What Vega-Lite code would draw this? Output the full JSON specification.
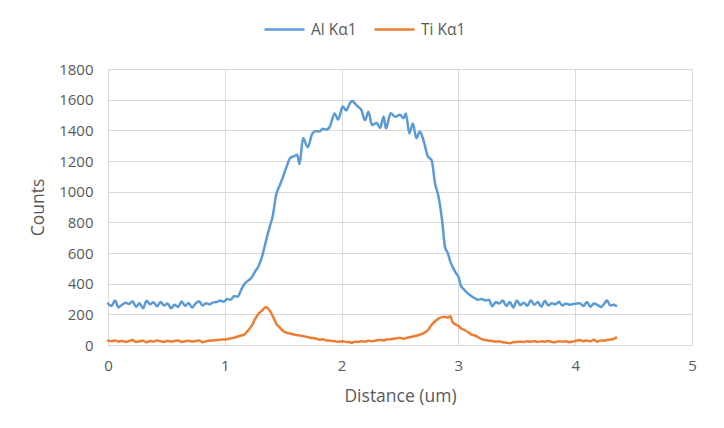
{
  "$schema": "https://vega.github.io/schema/vega-lite/v6.json",
  "autosize": {"type": "none"},
  "width": 584,
  "height": 276,
  "padding": {"left": 108, "top": 69, "right": 32, "bottom": 83},
  "background": "white",
  "config": {
    "font": "Open Sans",
    "view": {"stroke": "#d9d9d9", "strokeWidth": 1},
    "axis": {
      "gridColor": "#d9d9d9",
      "gridWidth": 1,
      "domainColor": "#d9d9d9",
      "ticks": false,
      "labelColor": "#595959",
      "labelFontSize": 15,
      "titleColor": "#595959",
      "titleFontSize": 17.5,
      "titleFontWeight": "normal"
    }
  },
  "data": {
    "values": [
      {"d": 0.00, "Al Kα1": 270, "Ti Kα1": 28},
      {"d": 0.03, "Al Kα1": 255, "Ti Kα1": 25},
      {"d": 0.06, "Al Kα1": 290, "Ti Kα1": 30},
      {"d": 0.09, "Al Kα1": 245, "Ti Kα1": 22},
      {"d": 0.12, "Al Kα1": 262, "Ti Kα1": 27},
      {"d": 0.15, "Al Kα1": 275, "Ti Kα1": 20},
      {"d": 0.18, "Al Kα1": 268, "Ti Kα1": 25},
      {"d": 0.21, "Al Kα1": 285, "Ti Kα1": 32},
      {"d": 0.24, "Al Kα1": 250, "Ti Kα1": 20},
      {"d": 0.27, "Al Kα1": 272, "Ti Kα1": 24},
      {"d": 0.30, "Al Kα1": 240, "Ti Kα1": 28},
      {"d": 0.33, "Al Kα1": 288, "Ti Kα1": 18},
      {"d": 0.36, "Al Kα1": 266, "Ti Kα1": 26},
      {"d": 0.39, "Al Kα1": 278, "Ti Kα1": 22},
      {"d": 0.42, "Al Kα1": 252, "Ti Kα1": 30},
      {"d": 0.45, "Al Kα1": 280, "Ti Kα1": 24},
      {"d": 0.48, "Al Kα1": 258, "Ti Kα1": 20},
      {"d": 0.51, "Al Kα1": 270, "Ti Kα1": 28},
      {"d": 0.54, "Al Kα1": 240, "Ti Kα1": 22},
      {"d": 0.57, "Al Kα1": 262, "Ti Kα1": 26},
      {"d": 0.60, "Al Kα1": 248, "Ti Kα1": 30},
      {"d": 0.63, "Al Kα1": 284, "Ti Kα1": 20},
      {"d": 0.66, "Al Kα1": 255, "Ti Kα1": 24},
      {"d": 0.69, "Al Kα1": 274, "Ti Kα1": 28},
      {"d": 0.72, "Al Kα1": 244, "Ti Kα1": 22},
      {"d": 0.75, "Al Kα1": 270, "Ti Kα1": 26},
      {"d": 0.78, "Al Kα1": 286, "Ti Kα1": 30},
      {"d": 0.81, "Al Kα1": 258, "Ti Kα1": 18},
      {"d": 0.84, "Al Kα1": 272, "Ti Kα1": 25},
      {"d": 0.87, "Al Kα1": 265, "Ti Kα1": 28},
      {"d": 0.90, "Al Kα1": 278, "Ti Kα1": 30},
      {"d": 0.93, "Al Kα1": 280, "Ti Kα1": 33},
      {"d": 0.96, "Al Kα1": 290, "Ti Kα1": 35},
      {"d": 0.99, "Al Kα1": 282, "Ti Kα1": 36},
      {"d": 1.02, "Al Kα1": 300, "Ti Kα1": 38},
      {"d": 1.05, "Al Kα1": 295, "Ti Kα1": 42},
      {"d": 1.08, "Al Kα1": 320, "Ti Kα1": 48},
      {"d": 1.11, "Al Kα1": 315, "Ti Kα1": 55},
      {"d": 1.14, "Al Kα1": 360, "Ti Kα1": 62},
      {"d": 1.17, "Al Kα1": 400, "Ti Kα1": 70},
      {"d": 1.20, "Al Kα1": 420, "Ti Kα1": 95},
      {"d": 1.23, "Al Kα1": 440, "Ti Kα1": 125},
      {"d": 1.26, "Al Kα1": 480, "Ti Kα1": 170},
      {"d": 1.29, "Al Kα1": 515, "Ti Kα1": 205},
      {"d": 1.32, "Al Kα1": 580, "Ti Kα1": 225},
      {"d": 1.35, "Al Kα1": 670, "Ti Kα1": 248},
      {"d": 1.38, "Al Kα1": 760, "Ti Kα1": 230},
      {"d": 1.41, "Al Kα1": 840, "Ti Kα1": 190},
      {"d": 1.44, "Al Kα1": 980, "Ti Kα1": 140},
      {"d": 1.47, "Al Kα1": 1040, "Ti Kα1": 115},
      {"d": 1.50, "Al Kα1": 1100, "Ti Kα1": 92},
      {"d": 1.53, "Al Kα1": 1165, "Ti Kα1": 80},
      {"d": 1.56, "Al Kα1": 1220, "Ti Kα1": 75},
      {"d": 1.59, "Al Kα1": 1230, "Ti Kα1": 68},
      {"d": 1.62, "Al Kα1": 1240, "Ti Kα1": 64},
      {"d": 1.64, "Al Kα1": 1180, "Ti Kα1": 62},
      {"d": 1.67, "Al Kα1": 1350, "Ti Kα1": 58},
      {"d": 1.71, "Al Kα1": 1290, "Ti Kα1": 52},
      {"d": 1.75, "Al Kα1": 1380, "Ti Kα1": 45},
      {"d": 1.78, "Al Kα1": 1395, "Ti Kα1": 42},
      {"d": 1.81, "Al Kα1": 1392, "Ti Kα1": 35},
      {"d": 1.84, "Al Kα1": 1410, "Ti Kα1": 38},
      {"d": 1.87, "Al Kα1": 1405, "Ti Kα1": 30},
      {"d": 1.90, "Al Kα1": 1425, "Ti Kα1": 28},
      {"d": 1.94, "Al Kα1": 1510, "Ti Kα1": 25},
      {"d": 1.97, "Al Kα1": 1470, "Ti Kα1": 22},
      {"d": 2.01, "Al Kα1": 1555, "Ti Kα1": 25},
      {"d": 2.04, "Al Kα1": 1530, "Ti Kα1": 20},
      {"d": 2.07, "Al Kα1": 1575, "Ti Kα1": 18},
      {"d": 2.09, "Al Kα1": 1593, "Ti Kα1": 15},
      {"d": 2.12, "Al Kα1": 1570, "Ti Kα1": 22},
      {"d": 2.14, "Al Kα1": 1555, "Ti Kα1": 20},
      {"d": 2.17, "Al Kα1": 1532, "Ti Kα1": 25},
      {"d": 2.20, "Al Kα1": 1465, "Ti Kα1": 22},
      {"d": 2.23, "Al Kα1": 1522, "Ti Kα1": 28},
      {"d": 2.26, "Al Kα1": 1435, "Ti Kα1": 25},
      {"d": 2.30, "Al Kα1": 1448, "Ti Kα1": 30},
      {"d": 2.33, "Al Kα1": 1415, "Ti Kα1": 32},
      {"d": 2.36, "Al Kα1": 1490, "Ti Kα1": 30},
      {"d": 2.38, "Al Kα1": 1412, "Ti Kα1": 35},
      {"d": 2.42, "Al Kα1": 1512, "Ti Kα1": 38},
      {"d": 2.46, "Al Kα1": 1488, "Ti Kα1": 42},
      {"d": 2.50, "Al Kα1": 1502, "Ti Kα1": 48},
      {"d": 2.53, "Al Kα1": 1478, "Ti Kα1": 40},
      {"d": 2.55, "Al Kα1": 1510, "Ti Kα1": 45},
      {"d": 2.58, "Al Kα1": 1380, "Ti Kα1": 50},
      {"d": 2.61, "Al Kα1": 1445, "Ti Kα1": 55},
      {"d": 2.64, "Al Kα1": 1348, "Ti Kα1": 60},
      {"d": 2.67, "Al Kα1": 1392, "Ti Kα1": 68},
      {"d": 2.70, "Al Kα1": 1337, "Ti Kα1": 76},
      {"d": 2.74, "Al Kα1": 1228, "Ti Kα1": 98},
      {"d": 2.77, "Al Kα1": 1207, "Ti Kα1": 130},
      {"d": 2.80, "Al Kα1": 1054, "Ti Kα1": 155},
      {"d": 2.83, "Al Kα1": 967, "Ti Kα1": 172},
      {"d": 2.86, "Al Kα1": 815, "Ti Kα1": 182},
      {"d": 2.885, "Al Kα1": 641, "Ti Kα1": 185},
      {"d": 2.91, "Al Kα1": 598, "Ti Kα1": 178},
      {"d": 2.93, "Al Kα1": 545, "Ti Kα1": 188},
      {"d": 2.95, "Al Kα1": 511, "Ti Kα1": 150},
      {"d": 2.98, "Al Kα1": 467, "Ti Kα1": 132},
      {"d": 3.00, "Al Kα1": 446, "Ti Kα1": 125},
      {"d": 3.02, "Al Kα1": 390, "Ti Kα1": 110},
      {"d": 3.05, "Al Kα1": 360, "Ti Kα1": 98},
      {"d": 3.08, "Al Kα1": 337, "Ti Kα1": 85},
      {"d": 3.11, "Al Kα1": 320, "Ti Kα1": 70},
      {"d": 3.14, "Al Kα1": 305, "Ti Kα1": 62},
      {"d": 3.17, "Al Kα1": 295, "Ti Kα1": 50},
      {"d": 3.20, "Al Kα1": 300, "Ti Kα1": 38},
      {"d": 3.23, "Al Kα1": 290, "Ti Kα1": 32},
      {"d": 3.26, "Al Kα1": 295, "Ti Kα1": 28},
      {"d": 3.29, "Al Kα1": 252, "Ti Kα1": 26},
      {"d": 3.32, "Al Kα1": 280, "Ti Kα1": 22},
      {"d": 3.35, "Al Kα1": 270, "Ti Kα1": 24},
      {"d": 3.38, "Al Kα1": 290, "Ti Kα1": 18},
      {"d": 3.41, "Al Kα1": 255, "Ti Kα1": 15},
      {"d": 3.44, "Al Kα1": 280, "Ti Kα1": 12},
      {"d": 3.47, "Al Kα1": 245, "Ti Kα1": 18},
      {"d": 3.50, "Al Kα1": 290, "Ti Kα1": 20},
      {"d": 3.53, "Al Kα1": 260, "Ti Kα1": 22},
      {"d": 3.56, "Al Kα1": 275, "Ti Kα1": 20},
      {"d": 3.59, "Al Kα1": 255, "Ti Kα1": 24},
      {"d": 3.62, "Al Kα1": 292, "Ti Kα1": 22},
      {"d": 3.65, "Al Kα1": 262, "Ti Kα1": 25},
      {"d": 3.68, "Al Kα1": 280, "Ti Kα1": 20},
      {"d": 3.71, "Al Kα1": 250, "Ti Kα1": 24},
      {"d": 3.74, "Al Kα1": 288, "Ti Kα1": 22},
      {"d": 3.77, "Al Kα1": 258, "Ti Kα1": 26},
      {"d": 3.80, "Al Kα1": 272, "Ti Kα1": 20},
      {"d": 3.83, "Al Kα1": 265, "Ti Kα1": 18},
      {"d": 3.86, "Al Kα1": 282, "Ti Kα1": 25},
      {"d": 3.89, "Al Kα1": 258, "Ti Kα1": 22},
      {"d": 3.92, "Al Kα1": 270, "Ti Kα1": 24},
      {"d": 3.95, "Al Kα1": 262, "Ti Kα1": 18},
      {"d": 3.98, "Al Kα1": 268, "Ti Kα1": 22},
      {"d": 4.01, "Al Kα1": 270, "Ti Kα1": 28},
      {"d": 4.04, "Al Kα1": 272, "Ti Kα1": 32},
      {"d": 4.07, "Al Kα1": 255, "Ti Kα1": 25},
      {"d": 4.10, "Al Kα1": 280, "Ti Kα1": 30},
      {"d": 4.13, "Al Kα1": 250, "Ti Kα1": 24},
      {"d": 4.16, "Al Kα1": 270, "Ti Kα1": 34},
      {"d": 4.19, "Al Kα1": 262, "Ti Kα1": 22},
      {"d": 4.22, "Al Kα1": 248, "Ti Kα1": 30},
      {"d": 4.25, "Al Kα1": 270, "Ti Kα1": 28},
      {"d": 4.27, "Al Kα1": 292, "Ti Kα1": 32},
      {"d": 4.30, "Al Kα1": 258, "Ti Kα1": 35},
      {"d": 4.33, "Al Kα1": 262, "Ti Kα1": 40},
      {"d": 4.35, "Al Kα1": 255, "Ti Kα1": 48}
    ]
  },
  "transform": [{"fold": ["Al Kα1", "Ti Kα1"], "as": ["series", "counts"]}],
  "mark": {"type": "line", "strokeWidth": 2.5, "interpolate": "monotone", "strokeJoin": "round", "strokeCap": "round"},
  "encoding": {
    "x": {
      "field": "d",
      "type": "quantitative",
      "scale": {"domain": [0, 5], "nice": false},
      "axis": {"title": "Distance (um)", "values": [0, 1, 2, 3, 4, 5], "labelFlush": false, "labelPadding": 13, "titlePadding": 14}
    },
    "y": {
      "field": "counts",
      "type": "quantitative",
      "scale": {"domain": [0, 1800], "nice": false},
      "axis": {"title": "Counts", "format": "d", "values": [0, 200, 400, 600, 800, 1000, 1200, 1400, 1600, 1800], "labelFlush": false, "labelPadding": 15, "titlePadding": 11, "domain": false}
    },
    "color": {
      "field": "series",
      "type": "nominal",
      "scale": {"domain": ["Al Kα1", "Ti Kα1"], "range": ["#5b9bd5", "#ed7d31"]},
      "legend": {
        "title": null,
        "orient": "none",
        "direction": "horizontal",
        "legendX": 155,
        "legendY": -61,
        "symbolType": "stroke",
        "symbolSize": 1600,
        "symbolStrokeWidth": 2.5,
        "labelFontSize": 15.5,
        "labelColor": "#595959",
        "columnPadding": 12,
        "labelOffset": 5
      }
    }
  }
}
